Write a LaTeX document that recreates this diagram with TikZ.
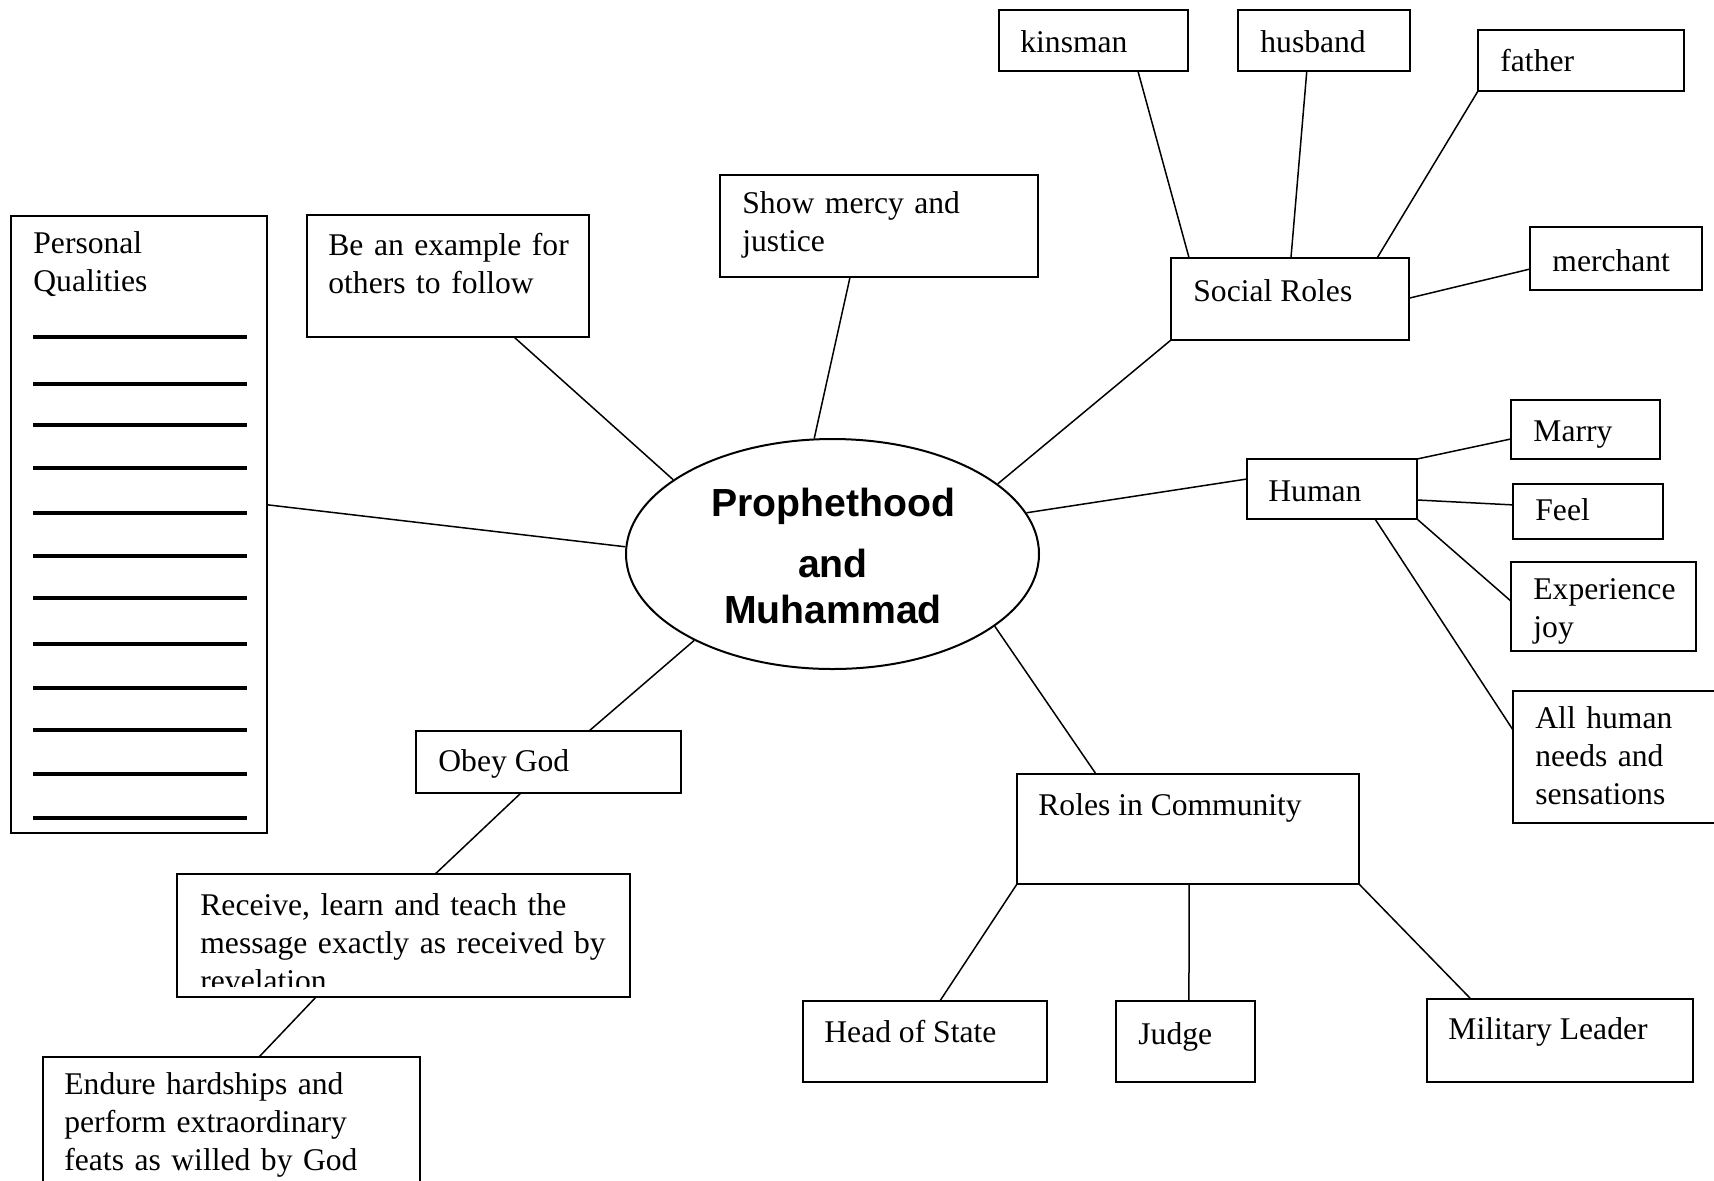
\documentclass[tikz,border=0pt]{standalone}
\usepackage{fontspec}
\setmainfont{Liberation Serif}
\newfontfamily\csans{Liberation Sans}
\usetikzlibrary{calc,shapes.geometric}
\tikzset{
 box/.style={draw, line width=1pt, inner sep=0pt, outer sep=0pt, rectangle},
 txt/.style={inner sep=0pt, anchor=base west, align=left, font=\fontsize{15.8}{19}\selectfont},
 mtxt/.style={txt, text width=300pt},
 ctxt/.style={inner sep=0pt, anchor=base, font=\csans\bfseries\fontsize{19.6}{23}\selectfont},
 conn/.style={line width=0.75pt},
 blank/.style={line width=1.8pt},
}
\newcommand\bx[5]{\node[box, minimum width={(#4-#2)*0.5pt}, minimum height={(#5-#3)*0.5pt}] (#1) at ({(#2+#4)/2},{(#3+#5)/2}) {};}
\begin{document}
\begin{tikzpicture}[x=0.5pt,y=-0.5pt]
\clip (0,0) rectangle (1714,1180);
\fill[white] (0,0) rectangle (1714,1180);
% central ellipse
\node[ellipse, draw, line width=1pt, minimum width=206.5pt, minimum height=115pt, inner sep=0pt] (c) at (832.5,554) {};
\node[ctxt] (c1) at (833,516) {Prophethood};
\node[ctxt] (c2) at (833,577) {and};
\node[ctxt] (c3) at (833,623) {Muhammad};
% boxes
\bx{pq}{11}{216}{267}{833}
\bx{be}{307}{215}{589}{337}
\bx{sm}{720}{175}{1038}{277}
\bx{kin}{999}{10}{1188}{71}
\bx{hus}{1238}{10}{1410}{71}
\bx{fa}{1478}{30}{1684}{91}
\bx{me}{1530}{227}{1702}{290}
\bx{sr}{1171}{258}{1409}{340}
\bx{hu}{1247}{459}{1417}{519}
\bx{ma}{1511}{400}{1660}{459}
\bx{fe}{1513}{484}{1663}{539}
\bx{ex}{1511}{562}{1696}{651}
\bx{al}{1513}{691}{1724}{823}
\bx{ric}{1017}{774}{1359}{884}
\bx{hos}{803}{1001}{1047}{1082}
\bx{ju}{1116}{1001}{1255}{1082}
\bx{mil}{1427}{999}{1693}{1082}
\bx{ob}{416}{731}{681}{793}
\bx{rc}{177}{874}{630}{997}
\bx{en}{43}{1057}{420}{1190}
% texts
\node[mtxt] (t-pq) at (33,253) {Personal\\Qualities};
\foreach \yy in {337,384,425,468,513,556,598,644,688,730,774,818}
  \draw[blank] (33,\yy) -- (247,\yy);
\node[mtxt] (t-be) at (328,255) {Be an example for\\others to follow};
\node[mtxt] (t-sm) at (742,213) {Show mercy and\\justice};
\node[txt] (t-kin) at (1020,52) {kinsman};
\node[txt] (t-hus) at (1260,52) {husband};
\node[txt] (t-fa) at (1500,71) {father};
\node[txt] (t-me) at (1552,271) {merchant};
\node[txt] (t-sr) at (1193,301) {Social Roles};
\node[txt] (t-hu) at (1268,501) {Human};
\node[txt] (t-ma) at (1533,441) {Marry};
\node[txt] (t-fe) at (1535,520) {Feel};
\node[mtxt] (t-ex) at (1533,599) {Experience\\joy};
\node[mtxt] (t-al) at (1535,728) {All human\\needs and\\sensations};
\node[txt] (t-ric) at (1038,815) {Roles in Community};
\node[txt] (t-hos) at (824,1042) {Head of State};
\node[txt] (t-ju) at (1138,1044) {Judge};
\node[txt] (t-mil) at (1448,1039) {Military Leader};
\node[txt] (t-ob) at (438,771) {Obey God};
\begin{scope}
\clip (177,874) rectangle (630,986);
\node[mtxt] (t-rc) at (200,915) {Receive, learn and teach the\\message exactly as received by\\revelation};
\end{scope}
\node[mtxt] (t-en) at (64,1094) {Endure hardships and\\perform extraordinary\\feats as willed by God};
% connectors
\draw[conn] ($(pq.north east)!0.468!(pq.south east)$) -- (c.178);
\draw[conn] ($(be.south west)!0.734!(be.south east)$) -- (c.155);
\draw[conn] ($(sm.south west)!0.409!(sm.south east)$) -- (c.99);
\draw[conn] (sr.south west) -- (c.23);
\draw[conn] ($(hu.north west)!0.333!(hu.south west)$) -- (c.12);
\draw[conn] (c.-24.5) -- ($(ric.north west)!0.231!(ric.north east)$);
\draw[conn] (c.212.5) -- ($(ob.north west)!0.653!(ob.north east)$);
\draw[conn] ($(ob.south west)!0.396!(ob.south east)$) -- ($(rc.north west)!0.57!(rc.north east)$);
\draw[conn] ($(rc.south west)!0.307!(rc.south east)$) -- ($(en.north west)!0.573!(en.north east)$);
\draw[conn] ($(kin.south west)!0.735!(kin.south east)$) -- ($(sr.north west)!0.076!(sr.north east)$);
\draw[conn] ($(hus.south west)!0.40!(hus.south east)$) -- ($(sr.north west)!0.504!(sr.north east)$);
\draw[conn] (fa.south west) -- ($(sr.north west)!0.866!(sr.north east)$);
\draw[conn] ($(me.north west)!0.667!(me.south west)$) -- ($(sr.north east)!0.49!(sr.south east)$);
\draw[conn] (hu.north east) -- ($(ma.north west)!0.66!(ma.south west)$);
\draw[conn] ($(hu.north east)!0.683!(hu.south east)$) -- ($(fe.north west)!0.38!(fe.south west)$);
\draw[conn] (hu.south east) -- ($(ex.north west)!0.44!(ex.south west)$);
\draw[conn] ($(hu.south west)!0.753!(hu.south east)$) -- ($(al.north west)!0.295!(al.south west)$);
\draw[conn] (ric.south west) -- ($(hos.north west)!0.561!(hos.north east)$);
\draw[conn] ($(ric.south west)!0.503!(ric.south east)$) -- ($(ju.north west)!0.525!(ju.north east)$);
\draw[conn] (ric.south east) -- ($(mil.north west)!0.165!(mil.north east)$);
\end{tikzpicture}
\end{document}
